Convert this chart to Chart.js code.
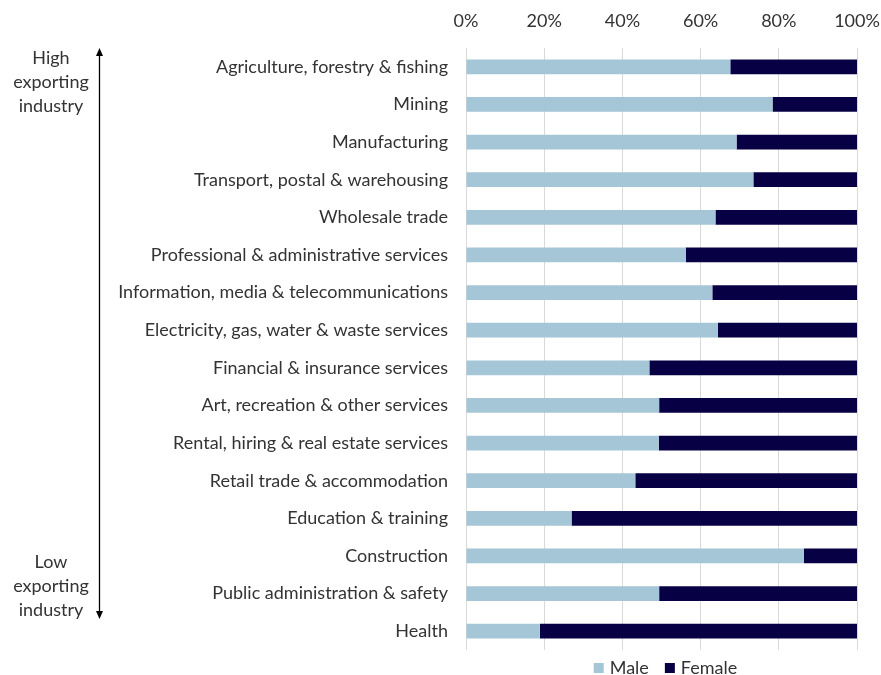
<!DOCTYPE html>
<html>
<head>
<meta charset="utf-8">
<script src="https://cdn.jsdelivr.net/npm/chart.js@4"></script>
<style>
  html, body { margin: 0; padding: 0; background: #fff; }
  #wrap { width: 881px; height: 675px; position: relative; }
</style>
</head>
<body>
<div id="wrap"><canvas id="c"></canvas></div>
<script>
const industries = [
  "Agriculture, forestry & fishing",
  "Mining",
  "Manufacturing",
  "Transport, postal & warehousing",
  "Wholesale trade",
  "Professional & administrative services",
  "Information, media & telecommunications",
  "Electricity, gas, water & waste services",
  "Financial & insurance services",
  "Art, recreation & other services",
  "Rental, hiring & real estate services",
  "Retail trade & accommodation",
  "Education & training",
  "Construction",
  "Public administration & safety",
  "Health"
];
const male =   [67.6, 78.4, 69.2, 73.5, 63.8, 56.2, 63.0, 64.4, 46.9, 49.4, 49.3, 43.3, 27.0, 86.4, 49.4, 18.9];
const female = [32.4, 21.6, 30.8, 26.5, 36.2, 43.8, 37.0, 35.6, 53.1, 50.6, 50.7, 56.7, 73.0, 13.6, 50.6, 81.1];
const xTicks = [0, 20, 40, 60, 80, 100];

const FONT = "Lato, 'Open Sans', sans-serif";
const TEXT = "#333333";

// left side arrow + notes, and the legend under the plot
const extras = {
  id: 'extras',
  afterDraw(chart) {
    const ctx = chart.ctx;
    const area = chart.chartArea;
    ctx.save();
    ctx.fillStyle = TEXT;
    ctx.font = "18px " + FONT;
    ctx.textAlign = 'center';
    ctx.textBaseline = 'middle';
    ["High", "exporting", "industry"].forEach((t, i) => ctx.fillText(t, 51, 58 + i * 24));
    ["Low", "exporting", "industry"].forEach((t, i) => ctx.fillText(t, 51, 562 + i * 24));

    // arrow
    ctx.strokeStyle = "#000";
    ctx.fillStyle = "#000";
    ctx.lineWidth = 1.3;
    ctx.beginPath();
    ctx.moveTo(99.5, 54);
    ctx.lineTo(99.5, 613);
    ctx.stroke();
    ctx.beginPath();
    ctx.moveTo(99.5, 48); ctx.lineTo(96, 56); ctx.lineTo(103, 56); ctx.closePath(); ctx.fill();
    ctx.beginPath();
    ctx.moveTo(99.5, 619); ctx.lineTo(96, 611); ctx.lineTo(103, 611); ctx.closePath(); ctx.fill();

    // legend
    const items = chart.data.datasets.map(d => ({ text: d.label, color: d.backgroundColor }));
    ctx.font = "18px " + FONT;
    ctx.textAlign = 'left';
    const box = 10, gap = 6, spacing = 16;
    let total = 0;
    items.forEach((it, i) => { total += box + gap + ctx.measureText(it.text).width + (i ? spacing : 0); });
    let x = (area.left + area.right) / 2 - total / 2 + 4;
    const y = 668;
    items.forEach(it => {
      ctx.fillStyle = it.color;
      ctx.fillRect(x, y - box / 2, box, box);
      x += box + gap;
      ctx.fillStyle = TEXT;
      ctx.fillText(it.text, x, y);
      x += ctx.measureText(it.text).width + spacing;
    });
    ctx.restore();
  }
};

new Chart(document.getElementById('c'), {
  type: 'bar',
  data: {
    labels: industries,
    datasets: [
      { label: 'Male', data: male, backgroundColor: '#A4C6D6' },
      { label: 'Female', data: female, backgroundColor: '#080045' }
    ]
  },
  options: {
    indexAxis: 'y',
    responsive: true,
    maintainAspectRatio: false,
    animation: false,
    categoryPercentage: 1,
    barPercentage: 0.39,
    layout: { padding: { left: 0, right: 24, top: 0, bottom: 25 } },
    plugins: {
      legend: { display: false },
      tooltip: { enabled: false }
    },
    scales: {
      x: {
        position: 'top',
        stacked: true,
        min: 0,
        max: 100,
        afterBuildTicks: s => { s.ticks = xTicks.map(v => ({ value: v })); },
        ticks: {
          callback: v => v + '%',
          color: TEXT,
          font: { family: FONT, size: 18 },
          padding: 16,
          maxRotation: 0
        },
        grid: { color: '#D9D9D9', drawTicks: false },
        border: { display: false },
        afterFit: s => { s.height = 48; s.paddingLeft = 0; s.paddingRight = 0; }
      },
      y: {
        stacked: true,
        ticks: {
          color: TEXT,
          font: { family: FONT, size: 18 },
          padding: 18,
          autoSkip: false
        },
        grid: { display: false, drawTicks: false },
        border: { display: false },
        afterFit: s => { s.width = 466; s.paddingTop = 0; s.paddingBottom = 0; }
      }
    }
  },
  plugins: [extras]
});
</script>
</body>
</html>
